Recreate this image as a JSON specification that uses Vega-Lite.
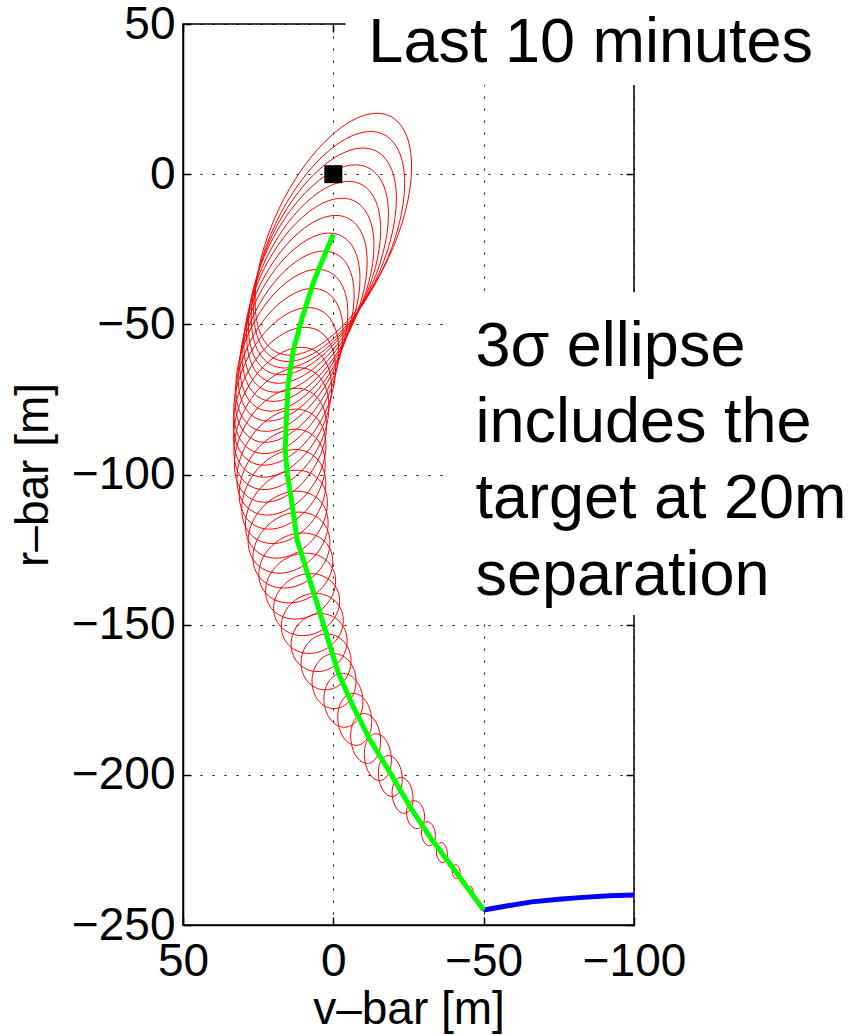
{
"$schema": "https://vega.github.io/schema/vega-lite/v6.json",
"width": 451, "height": 901,
"autosize": {"type": "none"},
"padding": {"left": 183, "top": 24, "right": 222, "bottom": 110},
"background": "white",
"config": {
 "font": "Liberation Sans",
 "view": {"stroke": "black", "strokeWidth": 1.5},
 "axis": {"labelFont": "Liberation Sans", "titleFont": "Liberation Sans", "labelColor": "black", "titleColor": "black", "labelFontSize": 46, "titleFontSize": 46, "titleFontWeight": "normal", "labelFlush": false, "labelOverlap": false, "domainColor": "black", "domainWidth": 1.5, "tickColor": "black", "tickWidth": 1.5, "tickSize": -8, "gridColor": "black", "gridDash": [2, 10], "gridOpacity": 1, "gridWidth": 1}
},
"datasets": {
 "ellipses": [
  {"e":0,"i":0,"x":-50.33,"y":-245.05},{"e":0,"i":1,"x":-50,"y":-245.5},{"e":0,"i":2,"x":-49.67,"y":-244.95},{"e":0,"i":3,"x":-50,"y":-244.5},
  {"e":1,"i":0,"x":-46.52,"y":-238.74},{"e":1,"i":1,"x":-45.69,"y":-239.86},{"e":1,"i":2,"x":-44.86,"y":-238.34},{"e":1,"i":3,"x":-45.69,"y":-237.22},
  {"e":2,"i":0,"x":-42.16,"y":-232.6},{"e":2,"i":1,"x":-40.83,"y":-234.55},{"e":2,"i":2,"x":-39.5,"y":-231.9},{"e":2,"i":3,"x":-40.83,"y":-229.95},
  {"e":3,"i":0,"x":-37.94,"y":-226.39},{"e":3,"i":1,"x":-36.11,"y":-229.18},{"e":3,"i":2,"x":-34.28,"y":-225.39},{"e":3,"i":3,"x":-36.11,"y":-222.6},
  {"e":4,"i":0,"x":-33.94,"y":-220.2},{"e":4,"i":1,"x":-31.61,"y":-223.55},{"e":4,"i":2,"x":-29.28,"y":-219.0},{"e":4,"i":3,"x":-31.61,"y":-215.65},
  {"e":5,"i":0,"x":-30.35,"y":-213.94},{"e":5,"i":1,"x":-27.35,"y":-217.85},{"e":5,"i":2,"x":-24.35,"y":-212.54},{"e":5,"i":3,"x":-27.35,"y":-208.63},
  {"e":6,"i":0,"x":-26.52,"y":-207.72},{"e":6,"i":1,"x":-23.03,"y":-212.74},{"e":6,"i":2,"x":-19.54,"y":-205.92},{"e":6,"i":3,"x":-23.03,"y":-200.9},
  {"e":7,"i":0,"x":-22.93,"y":-201.42},{"e":7,"i":1,"x":-18.94,"y":-207.14},{"e":7,"i":2,"x":-14.95,"y":-199.38},{"e":7,"i":3,"x":-18.94,"y":-193.66},
  {"e":8,"i":0,"x":-19.3,"y":-195.05},{"e":8,"i":1,"x":-14.81,"y":-201.87},{"e":8,"i":2,"x":-10.32,"y":-193.17},{"e":8,"i":3,"x":-14.81,"y":-186.35},
  {"e":9,"i":0,"x":-15.74,"y":-188.72},{"e":9,"i":1,"x":-10.75,"y":-196.17},{"e":9,"i":2,"x":-5.76,"y":-187.06},{"e":9,"i":3,"x":-10.75,"y":-179.61},
  {"e":10,"i":0,"x":-12.78,"y":-182.22},{"e":10,"i":1,"x":-7.12,"y":-190.15},{"e":10,"i":2,"x":-1.46,"y":-180.84},{"e":10,"i":3,"x":-7.12,"y":-172.91},
  {"e":11,"i":0,"x":-9.85,"y":-175.62},{"e":11,"i":1,"x":-3.36,"y":-184.14},{"e":11,"i":2,"x":3.13,"y":-174.72},{"e":11,"i":3,"x":-3.36,"y":-166.2},
  {"e":12,"i":0,"x":-7.55,"y":-168.82},{"e":12,"i":1,"x":-0.23,"y":-177.97},{"e":12,"i":2,"x":7.09,"y":-168.82},{"e":12,"i":3,"x":-0.23,"y":-159.67},
  {"e":13,"i":0,"x":-5.89,"y":-162.12},{"e":13,"i":1,"x":2.43,"y":-171.71},{"e":13,"i":2,"x":10.75,"y":-162.68},{"e":13,"i":3,"x":2.43,"y":-153.09},
  {"e":14,"i":0,"x":-4.59,"y":-155.39},{"e":14,"i":1,"x":4.73,"y":-165.6},{"e":14,"i":2,"x":14.05,"y":-156.55},{"e":14,"i":3,"x":4.73,"y":-146.34},
  {"e":15,"i":0,"x":-3.33,"y":-148.58},{"e":15,"i":1,"x":6.99,"y":-159.51},{"e":15,"i":2,"x":17.31,"y":-150.58},{"e":15,"i":3,"x":6.99,"y":-139.65},
  {"e":16,"i":0,"x":-2.09,"y":-142.09},{"e":16,"i":1,"x":8.89,"y":-153.57},{"e":16,"i":2,"x":19.87,"y":-144.57},{"e":16,"i":3,"x":8.89,"y":-133.09},
  {"e":17,"i":0,"x":-0.77,"y":-135.52},{"e":17,"i":1,"x":10.88,"y":-148.03},{"e":17,"i":2,"x":22.53,"y":-138.82},{"e":17,"i":3,"x":10.88,"y":-126.31},
  {"e":18,"i":0,"x":0.17,"y":-129.01},{"e":18,"i":1,"x":12.48,"y":-142.57},{"e":18,"i":2,"x":24.79,"y":-133.21},{"e":18,"i":3,"x":12.48,"y":-119.65},
  {"e":19,"i":0,"x":1.13,"y":-122.63},{"e":19,"i":1,"x":13.94,"y":-137.55},{"e":19,"i":2,"x":26.75,"y":-127.69},{"e":19,"i":3,"x":13.94,"y":-112.77},
  {"e":20,"i":0,"x":1.73,"y":-116.2},{"e":20,"i":1,"x":15.04,"y":-132.51},{"e":20,"i":2,"x":28.35,"y":-122.2},{"e":20,"i":3,"x":15.04,"y":-105.89},
  {"e":21,"i":0,"x":1.97,"y":-109.55},{"e":21,"i":1,"x":15.61,"y":-127.39},{"e":21,"i":2,"x":29.25,"y":-116.87},{"e":21,"i":3,"x":15.61,"y":-99.03},
  {"e":22,"i":0,"x":2.49,"y":-103.13},{"e":22,"i":1,"x":16.47,"y":-122.41},{"e":22,"i":2,"x":30.45,"y":-111.57},{"e":22,"i":3,"x":16.47,"y":-92.29},
  {"e":23,"i":0,"x":2.69,"y":-96.57},{"e":23,"i":1,"x":17.0,"y":-117.43},{"e":23,"i":2,"x":31.31,"y":-106.55},{"e":23,"i":3,"x":17.0,"y":-85.69},
  {"e":24,"i":0,"x":2.46,"y":-90.23},{"e":24,"i":1,"x":17.27,"y":-112.58},{"e":24,"i":2,"x":32.08,"y":-101.51},{"e":24,"i":3,"x":17.27,"y":-79.16},
  {"e":25,"i":0,"x":2.29,"y":-83.8},{"e":25,"i":1,"x":17.6,"y":-108.09},{"e":25,"i":2,"x":32.91,"y":-96.7},{"e":25,"i":3,"x":17.6,"y":-72.41},
  {"e":26,"i":0,"x":1.46,"y":-77.42},{"e":26,"i":1,"x":17.27,"y":-103.67},{"e":26,"i":2,"x":33.08,"y":-92.04},{"e":26,"i":3,"x":17.27,"y":-65.79},
  {"e":27,"i":0,"x":0.56,"y":-71.05},{"e":27,"i":1,"x":16.87,"y":-99.28},{"e":27,"i":2,"x":33.18,"y":-87.49},{"e":27,"i":3,"x":16.87,"y":-59.26},
  {"e":28,"i":0,"x":-0.73,"y":-64.76},{"e":28,"i":1,"x":16.24,"y":-94.98},{"e":28,"i":2,"x":33.21,"y":-83.12},{"e":28,"i":3,"x":16.24,"y":-52.9},
  {"e":29,"i":0,"x":-1.8,"y":-58.52},{"e":29,"i":1,"x":15.67,"y":-90.77},{"e":29,"i":2,"x":33.14,"y":-78.92},{"e":29,"i":3,"x":15.67,"y":-46.67},
  {"e":30,"i":0,"x":-3.23,"y":-52.39},{"e":30,"i":1,"x":14.74,"y":-86.67},{"e":30,"i":2,"x":32.71,"y":-74.93},{"e":30,"i":3,"x":14.74,"y":-40.65},
  {"e":31,"i":0,"x":-4.83,"y":-46.27},{"e":31,"i":1,"x":13.81,"y":-82.6},{"e":31,"i":2,"x":32.45,"y":-71.07},{"e":31,"i":3,"x":13.81,"y":-34.74},
  {"e":32,"i":0,"x":-6.92,"y":-40.33},{"e":32,"i":1,"x":12.38,"y":-78.73},{"e":32,"i":2,"x":31.68,"y":-67.49},{"e":32,"i":3,"x":12.38,"y":-29.09},
  {"e":33,"i":0,"x":-8.86,"y":-34.74},{"e":33,"i":1,"x":11.11,"y":-75.07},{"e":33,"i":2,"x":31.08,"y":-63.76},{"e":33,"i":3,"x":11.11,"y":-23.43},
  {"e":34,"i":0,"x":-11.25,"y":-29.22},{"e":34,"i":1,"x":9.55,"y":-71.49},{"e":34,"i":2,"x":30.35,"y":-60.16},{"e":34,"i":3,"x":9.55,"y":-17.89},
  {"e":35,"i":0,"x":-13.51,"y":-23.84},{"e":35,"i":1,"x":8.12,"y":-68.07},{"e":35,"i":2,"x":29.75,"y":-56.76},{"e":35,"i":3,"x":8.12,"y":-12.53},
  {"e":36,"i":0,"x":-15.74,"y":-18.53},{"e":36,"i":1,"x":6.56,"y":-64.72},{"e":36,"i":2,"x":28.86,"y":-53.49},{"e":36,"i":3,"x":6.56,"y":-7.3},
  {"e":37,"i":0,"x":-18.33,"y":-13.33},{"e":37,"i":1,"x":4.96,"y":-61.48},{"e":37,"i":2,"x":28.25,"y":-50.37},{"e":37,"i":3,"x":4.96,"y":-2.22},
  {"e":38,"i":0,"x":-20.97,"y":-8.15},{"e":38,"i":1,"x":3.16,"y":-58.73},{"e":38,"i":2,"x":27.29,"y":-47.69},{"e":38,"i":3,"x":3.16,"y":2.89},
  {"e":39,"i":0,"x":-23.72,"y":-3.04},{"e":39,"i":1,"x":1.4,"y":-56.05},{"e":39,"i":2,"x":26.52,"y":-45.14},{"e":39,"i":3,"x":1.4,"y":7.87},
  {"e":40,"i":0,"x":-26.02,"y":2.43},{"e":40,"i":1,"x":0,"y":-53.44},{"e":40,"i":2,"x":26.02,"y":-42.43},{"e":40,"i":3,"x":0,"y":13.44}
 ],
 "green": [
  {"i":0,"x":-50,"y":-245},{"i":1,"x":-39.6,"y":-230.8},{"i":2,"x":-32.9,"y":-221.8},{"i":3,"x":-25.6,"y":-210.8},{"i":4,"x":-19.0,"y":-199.5},{"i":5,"x":-12.3,"y":-188.5},{"i":6,"x":-6.7,"y":-177.5},{"i":7,"x":-1.7,"y":-166.2},{"i":8,"x":1.7,"y":-155.2},{"i":9,"x":5.0,"y":-144.2},{"i":10,"x":8.6,"y":-132.9},{"i":11,"x":12.0,"y":-121.9},{"i":12,"x":13.6,"y":-110.9},{"i":13,"x":15.3,"y":-99.6},{"i":14,"x":16.0,"y":-91.9},{"i":15,"x":15.6,"y":-80.9},{"i":16,"x":15.0,"y":-69.6},{"i":17,"x":13.3,"y":-58.6},{"i":18,"x":10.3,"y":-47.6},{"i":19,"x":6.7,"y":-36.3},{"i":20,"x":5.0,"y":-32.0},{"i":21,"x":0,"y":-20}
 ],
 "blue": [
  {"i":0,"x":-50,"y":-245},{"i":1,"x":-58,"y":-243.6},{"i":2,"x":-66,"y":-242.3},{"i":3,"x":-75,"y":-241.4},{"i":4,"x":-83,"y":-240.8},{"i":5,"x":-92,"y":-240.3},{"i":6,"x":-100,"y":-240.0}
 ],
 "target": [{"x":0,"y":0}],
 "boxes": [
  {"x":-4,"x2":-175,"y":60,"y2":29.6},
  {"x":-37.9,"x2":-175,"y":-39.3,"y2":-146.8}
 ],
 "notes": [
  {"x":-11.65,"y":37.3,"t":"Last 10 minutes"},
  {"x":-47.25,"y":-63.9,"t":"3σ ellipse"},
  {"x":-47.25,"y":-89.2,"t":"includes the"},
  {"x":-47.25,"y":-114.5,"t":"target at 20m"},
  {"x":-47.25,"y":-140.1,"t":"separation"}
 ]
},
"resolve": {"axis": {"x": "independent", "y": "independent"}},
"layer": [
 {
  "data": {"name": "ellipses"},
  "mark": {"type": "line", "interpolate": "cardinal-closed", "tension": -0.657, "color": "#ff0000", "strokeWidth": 1},
  "encoding": {
   "x": {"field": "x", "type": "quantitative", "scale": {"domain": [-100, 50], "reverse": true, "nice": false, "zero": false}, "axis": {"values": [50, 0, -50, -100], "title": "v–bar [m]", "grid": true, "labelPadding": 22, "titlePadding": 3}},
   "y": {"field": "y", "type": "quantitative", "scale": {"domain": [-250, 50], "nice": false, "zero": false}, "axis": {"values": [50, 0, -50, -100, -150, -200, -250], "title": "r–bar [m]", "grid": true, "labelPadding": 16, "titlePadding": 14}},
   "detail": {"field": "e", "type": "nominal"},
   "order": {"field": "i", "type": "quantitative"}
  }
 },
 {
  "data": {"name": "blue"},
  "mark": {"type": "line", "color": "#0000ff", "strokeWidth": 5},
  "encoding": {
   "x": {"field": "x", "type": "quantitative", "axis": null},
   "y": {"field": "y", "type": "quantitative", "axis": null},
   "order": {"field": "i", "type": "quantitative"}
  }
 },
 {
  "data": {"name": "green"},
  "mark": {"type": "line", "color": "#00ff00", "strokeWidth": 5},
  "encoding": {
   "x": {"field": "x", "type": "quantitative", "axis": null},
   "y": {"field": "y", "type": "quantitative", "axis": null},
   "order": {"field": "i", "type": "quantitative"}
  }
 },
 {
  "data": {"name": "target"},
  "mark": {"type": "point", "shape": "square", "filled": true, "color": "black", "size": 324, "opacity": 1},
  "encoding": {
   "x": {"field": "x", "type": "quantitative", "axis": {"orient": "top", "values": [50, 0, -50, -100], "labels": false, "title": null, "grid": false, "domain": false}},
   "y": {"field": "y", "type": "quantitative", "axis": {"orient": "right", "values": [50, 0, -50, -100, -150, -200, -250], "labels": false, "title": null, "grid": false, "domain": false}}
  }
 },
 {
  "data": {"name": "boxes"},
  "mark": {"type": "rect", "fill": "white", "strokeWidth": 0},
  "encoding": {
   "x": {"field": "x", "type": "quantitative", "axis": null},
   "x2": {"field": "x2"},
   "y": {"field": "y", "type": "quantitative", "axis": null},
   "y2": {"field": "y2"}
  }
 },
 {
  "data": {"name": "notes"},
  "mark": {"type": "text", "align": "left", "baseline": "alphabetic", "fontSize": 63, "font": "Liberation Sans", "color": "black"},
  "encoding": {
   "x": {"field": "x", "type": "quantitative", "axis": null},
   "y": {"field": "y", "type": "quantitative", "axis": null},
   "text": {"field": "t", "type": "nominal"}
  }
 }
]
}
